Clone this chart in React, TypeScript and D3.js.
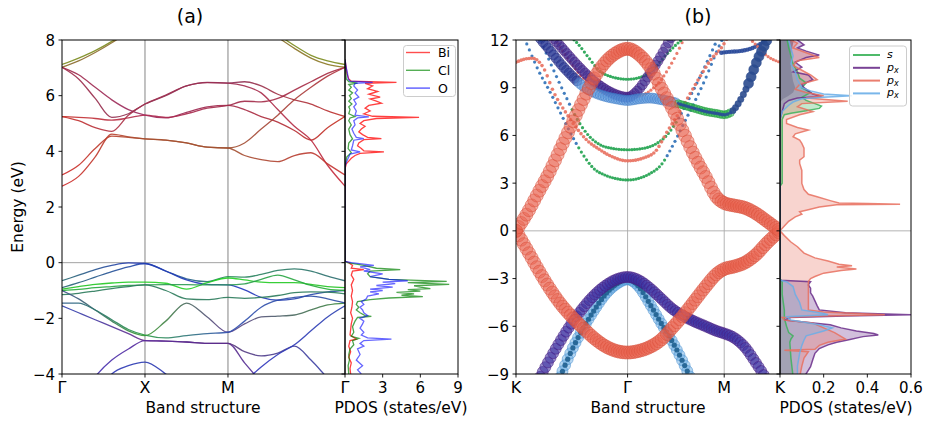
import React, { useEffect, useRef } from "react";
import * as d3 from "d3";

const FONT = "DejaVu Sans, Verdana, sans-serif";

// ---------------- Panel (a) : band structure ----------------
const kTicksA = [0, 1, 2, 3.41];
const kLabelsA = ["Γ", "X", "M", "Γ"];
const kGridA = [0, 0.2, 0.4, 0.6, 0.8, 1.0, 1.25, 1.5, 1.75, 2.0, 2.2, 2.4, 2.6, 2.8, 3.0, 3.2, 3.41];
const energyTicksA = [-4, -2, 0, 2, 4, 6, 8];
const pdosTicksA = [3, 6, 9];

const bandsA: number[][] = [
  [7.12, 7.35, 7.62, 7.95, 8.35, 8.8, 9.2, 9.45, 9.4, 9.2, 8.95, 8.6, 8.2, 7.8, 7.45, 7.25, 7.12],
  [7.02, 7.25, 7.55, 7.9, 8.3, 8.75, 9.1, 9.3, 9.3, 9.1, 8.85, 8.5, 8.1, 7.7, 7.35, 7.12, 7.02],
  [7.02, 6.6, 5.9, 5.22, 5.35, 5.7, 6.0, 6.35, 6.48, 6.45, 6.5, 6.35, 6.05, 5.85, 5.7, 5.45, 5.25],
  [7.02, 6.75, 6.3, 5.85, 5.5, 5.3, 5.2, 5.4, 5.6, 5.65, 5.5, 5.25, 5.05, 4.75, 4.4, 4.85, 5.25],
  [5.25, 5.22, 5.18, 5.12, 5.2, 5.3, 5.22, 5.35, 5.55, 5.65, 5.8, 5.78, 5.9, 6.2, 6.5, 6.8, 7.02],
  [5.25, 5.1, 4.85, 4.72, 5.3, 5.7, 6.02, 6.35, 6.47, 6.45, 6.35, 6.1, 5.5, 4.9, 4.4, 3.5, 2.75],
  [3.15, 3.5, 4.1, 4.55, 4.5, 4.45, 4.4, 4.3, 4.15, 4.12, 4.3, 4.8, 5.3, 5.85, 6.3, 6.7, 7.02],
  [2.75, 3.1, 3.8, 4.62, 4.52, 4.45, 4.4, 4.3, 4.15, 4.12, 3.85, 3.7, 3.63, 3.85, 3.95, 3.55, 3.15],
  [-0.65, -0.45, -0.25, -0.1, -0.01, -0.03, -0.3, -0.58, -0.68, -0.5, -0.52, -0.42, -0.28, -0.22, -0.3, -0.48, -0.65],
  [-0.9, -0.72, -0.52, -0.32, -0.15, -0.03, -0.3, -0.62, -0.78, -0.8, -0.98, -1.25, -1.35, -1.3, -1.15, -1.05, -1.0],
  [-0.95, -0.86, -0.78, -0.73, -0.7, -0.7, -0.74, -0.95, -0.72, -0.55, -0.62, -0.7, -0.72, -0.72, -0.78, -0.86, -0.9],
  [-1.0, -0.96, -0.9, -0.86, -0.82, -0.8, -0.79, -0.79, -0.8, -0.8, -0.76, -0.6, -0.45, -0.62, -0.82, -0.95, -1.0],
  [-1.15, -1.1, -1.02, -0.93, -0.86, -0.8, -1.0, -1.3, -1.33, -1.25, -1.28, -1.25, -1.18, -1.08, -1.05, -1.06, -1.12],
  [-1.0, -1.3, -1.7, -2.1, -2.45, -2.62, -2.1, -1.45, -1.95, -2.5, -2.2, -1.95, -1.92, -1.88, -1.7, -1.52, -1.45],
  [-1.45, -1.45, -1.7, -2.05, -2.4, -2.6, -2.7, -2.62, -2.55, -2.5, -2.1, -1.6, -1.35, -1.25, -1.2, -1.3, -1.45],
  [-1.55, -1.8, -2.05, -2.3, -2.55, -2.8, -2.82, -2.85, -2.9, -2.9, -3.2, -3.35, -3.25, -3.0, -3.5, -4.15, -4.8],
  [-6.0, -5.0, -4.1, -3.5, -3.1, -2.8, -2.82, -2.85, -2.9, -2.9, -3.6, -4.3, -5.0, -5.6, -6.0, -6.3, -6.5],
  [-7.0, -6.5, -6.0, -5.6, -5.2, -4.8, -4.8, -5.0, -5.2, -5.0, -4.3, -3.75, -3.3, -2.95, -2.45, -1.95, -1.55],
  [-7.5, -6.0, -5.0, -4.0, -3.7, -3.57, -4.0, -4.6, -5.2, -5.5, -5.6, -5.8, -6.0, -6.0, -5.8, -5.5, -5.3],
];
// colours at Γ, X, M, Γ
const bandColorsA: string[][] = [
  ["#7a8a1c", "#7a8a1c", "#7a8a1c", "#7a8a1c"],
  ["#8a6a2a", "#8a6a2a", "#8a6a2a", "#8a7a20"],
  ["#a02848", "#8a3050", "#8a3058", "#c0302a"],
  ["#a02848", "#9a2a60", "#a02848", "#c83020"],
  ["#c83028", "#b02a50", "#a02848", "#a82a40"],
  ["#c83028", "#a03050", "#9a2a50", "#c82838"],
  ["#d02828", "#a85030", "#a05030", "#b03040"],
  ["#d02828", "#a85030", "#a05030", "#c83030"],
  ["#2a6a70", "#2030c0", "#2a8a5a", "#2a6a70"],
  ["#2a6a70", "#2040b0", "#2030c0", "#2a50a0"],
  ["#22c022", "#22d022", "#22d022", "#22c022"],
  ["#22b030", "#2a9a50", "#2a9a50", "#22b030"],
  ["#2a7a5a", "#2a7a5a", "#2a7a5a", "#2a7a5a"],
  ["#3a4a8a", "#3a9a30", "#5a3a8a", "#3a8a3a"],
  ["#2a5a8a", "#2a9a40", "#3050b0", "#2a4aa0"],
  ["#2a40b0", "#6a2a8a", "#5a3a7a", "#3040b0"],
  ["#3030c0", "#5a2a9a", "#5a2a8a", "#3030c0"],
  ["#3030c0", "#3030c0", "#3030c0", "#2a40b0"],
  ["#3030c0", "#2a3ab0", "#3030c0", "#3030c0"],
];

// ---------------- Panel (a) : PDOS (energy, states/eV) ----------------
const pdosBi: [number, number][] = [
  [7.3, 0], [7.0, 0.1], [6.8, 0.15], [6.6, 0.3], [6.52, 0.5], [6.48, 4.1], [6.44, 1.6], [6.35, 2.2], [6.25, 1.8],
  [6.15, 2.6], [6.05, 1.9], [5.95, 2.8], [5.88, 2.0], [5.8, 2.5], [5.73, 2.9], [5.65, 1.9], [5.55, 1.6], [5.45, 2.0],
  [5.35, 1.5], [5.26, 2.2], [5.22, 5.9], [5.18, 2.5], [5.1, 1.5], [5.0, 1.2], [4.9, 1.6], [4.8, 1.3], [4.7, 1.1],
  [4.6, 1.4], [4.5, 1.8], [4.46, 2.9], [4.42, 1.5], [4.3, 1.1], [4.2, 1.0], [4.1, 1.3], [4.02, 1.5], [3.98, 3.1],
  [3.93, 1.2], [3.85, 0.8], [3.75, 0.5], [3.65, 0.3], [3.55, 0.1], [3.4, 0.02], [0.05, 0], [0.0, 0.3], [-0.1, 0.6],
  [-0.2, 0.5], [-0.25, 1.5], [-0.3, 0.6], [-0.45, 0.5], [-0.6, 0.7], [-0.8, 0.5], [-1.0, 0.6], [-1.2, 0.5],
  [-1.4, 0.6], [-1.6, 0.55], [-1.8, 0.45], [-2.0, 0.6], [-2.2, 0.5], [-2.4, 0.45], [-2.6, 0.4], [-2.75, 0.9],
  [-2.8, 0.4], [-3.0, 0.3], [-3.2, 0.45], [-3.4, 0.3], [-3.6, 0.5], [-3.8, 0.4], [-4.0, 0.45],
];
const pdosCl: [number, number][] = [
  [7.3, 0], [6.6, 0.1], [6.5, 0.3], [6.45, 1.0], [6.4, 0.3], [6.3, 0.5], [6.2, 0.3], [6.1, 0.6], [6.0, 0.35],
  [5.9, 0.5], [5.8, 0.3], [5.7, 0.55], [5.6, 0.3], [5.5, 0.4], [5.35, 0.3], [5.25, 0.8], [5.2, 0.4], [5.1, 0.3],
  [4.95, 0.5], [4.8, 0.3], [4.6, 0.4], [4.45, 0.6], [4.3, 0.3], [4.1, 0.25], [3.95, 0.5], [3.8, 0.15], [3.6, 0.05],
  [3.4, 0], [0.05, 0], [0.0, 0.2], [-0.1, 1.5], [-0.2, 2.5], [-0.25, 4.4], [-0.3, 2.0], [-0.4, 1.8], [-0.5, 2.0],
  [-0.6, 3.5], [-0.67, 8.1], [-0.72, 5.0], [-0.78, 8.3], [-0.83, 5.5], [-0.88, 6.0], [-0.93, 6.8], [-0.97, 5.0],
  [-1.02, 6.0], [-1.07, 4.1], [-1.12, 5.5], [-1.17, 4.5], [-1.22, 6.2], [-1.27, 3.5], [-1.33, 2.0], [-1.4, 1.0],
  [-1.5, 0.9], [-1.6, 1.1], [-1.7, 0.9], [-1.8, 1.2], [-1.9, 1.6], [-1.93, 2.1], [-1.97, 1.0], [-2.1, 0.8],
  [-2.3, 0.6], [-2.5, 0.7], [-2.65, 0.5], [-2.72, 1.1], [-2.8, 0.6], [-2.95, 0.7], [-3.1, 0.4], [-3.3, 0.3],
  [-3.5, 0.35], [-3.7, 0.25], [-4.0, 0.3],
];
const pdosO: [number, number][] = [
  [7.3, 0], [7.0, 0.1], [6.8, 0.2], [6.6, 0.25], [6.52, 0.4], [6.48, 2.2], [6.44, 0.8], [6.35, 0.7], [6.2, 1.0],
  [6.1, 0.8], [5.95, 1.1], [5.85, 0.7], [5.7, 0.9], [5.6, 0.7], [5.45, 0.9], [5.3, 0.8], [5.24, 1.9], [5.2, 1.0],
  [5.1, 0.7], [4.95, 0.8], [4.8, 0.55], [4.65, 0.7], [4.5, 0.9], [4.46, 1.5], [4.4, 0.7], [4.2, 0.6], [4.05, 0.5],
  [3.98, 1.2], [3.9, 0.4], [3.75, 0.25], [3.6, 0.1], [3.45, 0], [0.05, 0], [0.0, 0.5], [-0.05, 1.5], [-0.1, 2.3],
  [-0.15, 1.2], [-0.25, 2.0], [-0.3, 1.5], [-0.4, 3.0], [-0.5, 2.0], [-0.6, 3.5], [-0.65, 5.0], [-0.7, 3.0],
  [-0.75, 4.0], [-0.82, 2.5], [-0.88, 3.8], [-0.95, 2.0], [-1.0, 3.0], [-1.05, 2.0], [-1.12, 2.7], [-1.2, 1.8],
  [-1.3, 1.7], [-1.4, 1.3], [-1.5, 1.5], [-1.6, 1.2], [-1.7, 1.4], [-1.8, 1.5], [-1.9, 1.8], [-2.0, 1.2],
  [-2.1, 1.5], [-2.2, 1.4], [-2.35, 1.2], [-2.5, 1.5], [-2.6, 1.3], [-2.7, 1.8], [-2.75, 3.7], [-2.8, 1.5],
  [-2.9, 1.2], [-3.0, 1.5], [-3.1, 1.0], [-3.3, 1.2], [-3.5, 0.9], [-3.7, 1.4], [-3.85, 1.0], [-4.0, 1.3],
];
const legendA = ["Bi", "Cl", "O"];
const legendAColors = ["#ff2020", "#2a9a2a", "#3030ff"];

// ---------------- Panel (b) : fat bands ----------------
const kTicksB = [0, 1, 1.866, 2.366];
const kLabelsB = ["K", "Γ", "M", "K"];
const energyTicksB = [-9, -6, -3, 0, 3, 6, 9, 12];
const pdosTicksB = [0.2, 0.4, 0.6];

const kR = [0, 0.1, 0.2, 0.3, 0.4, 0.5, 0.6, 0.7, 0.8, 0.9, 1.0, 1.1, 1.2, 1.3, 1.4, 1.5, 1.6, 1.7, 1.8, 1.866, 1.95, 2.05, 2.15, 2.25, 2.366];
const eR1 = [0, 1.1, 2.4, 3.7, 5.2, 6.7, 8.2, 9.6, 10.6, 11.2, 11.45, 11.1, 10.3, 9.0, 7.7, 6.2, 4.7, 3.4, 2.1, 1.75, 1.6, 1.45, 1.1, 0.6, 0];
const eR2 = [0, -1.2, -2.45, -3.6, -4.6, -5.4, -6.1, -6.75, -7.25, -7.55, -7.65, -7.55, -7.3, -6.85, -6.1, -5.3, -4.4, -3.5, -2.7, -2.4, -2.25, -2.0, -1.5, -0.75, 0];
const kP1 = [0.1, 0.2, 0.3, 0.4, 0.5, 0.6, 0.7, 0.8, 0.9, 1.0, 1.1, 1.2, 1.3, 1.4, 1.5, 1.6, 1.7, 1.8, 1.866, 1.95, 2.05, 2.15, 2.25, 2.32];
const eP1 = [-10.8, -9.4, -8.1, -6.9, -5.8, -4.85, -4.05, -3.45, -3.05, -2.9, -3.1, -3.6, -4.25, -4.9, -5.35, -5.7, -6.0, -6.3, -6.45, -6.7, -7.3, -8.3, -9.4, -10.2];
const kB1 = [0.3, 0.4, 0.5, 0.6, 0.7, 0.8, 0.9, 1.0, 1.1, 1.2, 1.3, 1.4, 1.5, 1.6];
const eB1 = [-10.8, -9.1, -7.5, -6.15, -5.0, -4.0, -3.35, -3.05, -3.5, -4.6, -5.8, -6.95, -8.3, -9.8];
const kP2 = [0.2, 0.3, 0.4, 0.5, 0.6, 0.7, 0.8, 0.9, 1.0, 1.1, 1.2, 1.3, 1.4];
const eP2 = [13.2, 12.4, 11.6, 10.8, 10.05, 9.4, 8.9, 8.55, 8.4, 8.9, 9.9, 11.0, 12.3];
const kP3 = [0.15, 0.2, 0.3, 0.4, 0.5, 0.6, 0.7, 0.8, 0.9, 1.0, 1.1, 1.2, 1.3, 1.4, 1.5, 1.6, 1.7, 1.8, 1.866, 1.95, 2.0, 2.08, 2.17, 2.23, 2.3];
const eP3 = [13.0, 12.3, 11.4, 10.5, 9.75, 9.1, 8.7, 8.45, 8.3, 8.2, 8.3, 8.35, 8.25, 8.1, 7.9, 7.7, 7.5, 7.38, 7.3, 7.6, 8.1, 9.2, 10.85, 11.7, 12.8];

// thin (dotted) bands
const kD1 = [0.05, 0.1, 0.2, 0.3, 0.4, 0.5, 0.6, 0.7, 0.8, 0.9, 1.0, 1.1, 1.2, 1.3, 1.4, 1.5, 1.6, 1.7, 1.8, 1.88];
const eD1 = [12.5, 11.7, 10.1, 8.8, 7.4, 6.0, 4.8, 3.9, 3.5, 3.28, 3.2, 3.3, 3.6, 4.14, 5.3, 6.7, 8.1, 9.6, 11.3, 12.5];
const kD2 = [0, 0.08, 0.15, 0.25, 0.336, 0.45, 0.55, 0.65, 0.73, 0.85, 1.0, 1.15, 1.25, 1.36, 1.45, 1.55, 1.65, 1.75, 1.84, 1.9];
const eD2 = [10.6, 10.8, 10.85, 10.2, 8.75, 7.4, 6.4, 5.6, 5.2, 4.7, 4.4, 4.6, 5.0, 6.3, 7.3, 8.5, 9.7, 10.8, 11.5, 12.2];
const kD3 = [0.2, 0.25, 0.35, 0.45, 0.55, 0.65, 0.757, 0.85, 1.0, 1.15, 1.25, 1.35, 1.45, 1.55, 1.65, 1.75, 1.82];
const eD3 = [12.3, 11.5, 9.9, 8.4, 7.0, 6.0, 5.4, 5.2, 5.1, 5.2, 5.45, 6.0, 7.0, 8.3, 9.7, 11.2, 12.3];
const kD4 = [0.3, 0.4, 0.5, 0.6, 0.7, 0.8, 0.9, 1.0, 1.1, 1.2, 1.3, 1.4, 1.5];
const eD4 = [12.6, 11.5, 10.5, 9.6, 9.0, 8.6, 8.4, 8.35, 8.45, 8.8, 9.5, 10.6, 12.0];
const kDA = [0.45, 0.55, 0.65, 0.75, 0.85, 1.0, 1.15, 1.25, 1.35, 1.45, 1.55];
const eDA = [12.4, 11.8, 10.9, 10.05, 9.7, 9.53, 9.75, 10.3, 11.1, 11.8, 12.4];
const kD5 = [1.84, 1.9, 2.0, 2.1, 2.2, 2.28];
const eD5 = [11.2, 11.25, 11.3, 11.45, 11.8, 12.3];
const kD6 = [2.05, 2.15, 2.25, 2.366];
const eD6 = [12.4, 11.7, 11.0, 10.6];

// ---------------- Panel (b) : PDOS ----------------
const pdosS: [number, number][] = [
  [12.2, 0.03], [11.5, 0.04], [11.0, 0.05], [10.5, 0.06], [10.0, 0.08], [9.6, 0.09], [9.3, 0.12], [9.0, 0.1],
  [8.7, 0.14], [8.4, 0.1], [8.2, 0.12], [8.0, 0.16], [7.85, 0.19], [7.7, 0.18], [7.55, 0.12], [7.4, 0.05],
  [7.3, 0.02], [7.0, 0.01], [5.0, 0.01], [3.0, 0.01], [2.8, 0], [-3.0, 0], [-3.2, 0.01], [-4.0, 0.01],
  [-5.0, 0.02], [-5.5, 0.02], [-6.0, 0.03], [-6.4, 0.04], [-6.6, 0.06], [-6.8, 0.05], [-7.0, 0.045],
  [-8.0, 0.05], [-9.2, 0.06],
];
const pdosPxA: [number, number][] = [
  [12.2, 0.09], [12.0, 0.08], [11.7, 0.11], [11.5, 0.08], [11.3, 0.12], [11.05, 0.18], [10.9, 0.12], [10.6, 0.07],
  [10.3, 0.1], [10.0, 0.06], [9.8, 0.13], [9.5, 0.15], [9.2, 0.1], [9.0, 0.11], [8.8, 0.13], [8.6, 0.15],
  [8.45, 0.19], [8.35, 0.08], [8.2, 0.04], [8.0, 0.02], [7.5, 0.01], [7.0, 0], [-3.1, 0], [-3.2, 0.14],
  [-3.4, 0.13], [-3.6, 0.14], [-3.9, 0.14], [-4.1, 0.15], [-4.4, 0.16], [-4.7, 0.17], [-4.97, 0.18],
  [-5.15, 0.3], [-5.28, 0.6], [-5.35, 0.3], [-5.45, 0.05], [-5.6, 0.02], [-5.75, 0.12], [-5.9, 0.23],
  [-6.1, 0.28], [-6.3, 0.35], [-6.45, 0.43], [-6.55, 0.45], [-6.65, 0.38], [-6.86, 0.31], [-7.0, 0.26],
  [-7.17, 0.22], [-7.4, 0.18], [-7.7, 0.16], [-8.1, 0.15], [-8.54, 0.14], [-9.2, 0.11],
];
const pdosPxB: [number, number][] = [
  [12.2, 0.05], [12.0, 0.05], [11.8, 0.08], [11.5, 0.06], [11.2, 0.12], [10.9, 0.18], [10.7, 0.08], [10.4, 0.06],
  [10.1, 0.1], [9.8, 0.14], [9.5, 0.17], [9.2, 0.09], [8.9, 0.07], [8.7, 0.12], [8.5, 0.2], [8.35, 0.12],
  [8.15, 0.31], [8.0, 0.1], [7.8, 0.08], [7.5, 0.15], [7.3, 0.09], [7.0, 0.03], [6.75, 0.03], [6.5, 0.08],
  [6.34, 0.13], [6.1, 0.07], [5.92, 0.06], [5.7, 0.09], [5.5, 0.1], [5.2, 0.11], [4.9, 0.11], [4.66, 0.11],
  [4.45, 0.09], [4.24, 0.09], [3.8, 0.1], [3.4, 0.1], [2.98, 0.1], [2.6, 0.11], [2.3, 0.13], [2.14, 0.17],
  [1.9, 0.23], [1.75, 0.27], [1.72, 0.4], [1.68, 0.55], [1.64, 0.26], [1.5, 0.18], [1.3, 0.12], [1.2, 0.09],
  [1.05, 0.1], [0.88, 0.07], [0.6, 0.04], [0.3, 0.02], [0.0, 0.0], [-0.3, 0.02], [-0.7, 0.05], [-1.0, 0.08],
  [-1.4, 0.11], [-1.7, 0.16], [-1.9, 0.22], [-2.1, 0.27], [-2.2, 0.33], [-2.28, 0.26], [-2.4, 0.35],
  [-2.5, 0.28], [-2.66, 0.2], [-2.87, 0.16], [-3.0, 0.14], [-3.18, 0.13], [-3.5, 0.13], [-4.0, 0.13],
  [-4.5, 0.13], [-4.97, 0.13], [-5.1, 0.2], [-5.28, 0.48], [-5.35, 0.2], [-5.45, 0.01], [-5.6, 0.02],
  [-5.8, 0.15], [-6.1, 0.2], [-6.4, 0.25], [-6.8, 0.3], [-7.0, 0.22], [-7.2, 0.18], [-7.45, 0.16],
  [-7.5, 0.02], [-7.6, 0.13], [-8.0, 0.11], [-8.5, 0.1], [-9.2, 0.09],
];
const pdosPxC: [number, number][] = [
  [12.2, 0.04], [12.0, 0.04], [11.5, 0.05], [11.0, 0.06], [10.5, 0.05], [10.0, 0.07], [9.5, 0.08], [9.0, 0.1],
  [8.8, 0.14], [8.6, 0.2], [8.5, 0.33], [8.4, 0.2], [8.3, 0.1], [8.1, 0.06], [7.9, 0.04], [7.5, 0.01], [7.0, 0],
  [-3.1, 0], [-3.2, 0.03], [-3.5, 0.06], [-4.0, 0.07], [-4.5, 0.09], [-4.97, 0.1], [-5.2, 0.2], [-5.28, 0.22],
  [-5.4, 0.03], [-5.6, 0.05], [-5.9, 0.18], [-6.1, 0.24], [-6.3, 0.2], [-6.6, 0.12], [-6.86, 0.11],
  [-7.2, 0.1], [-7.7, 0.09], [-8.5, 0.08], [-9.2, 0.08],
];
// unlabelled dark background fill seen in the upper PDOS region
const pdosRest: [number, number][] = [
  [12.2, 0.07], [11.8, 0.06], [11.4, 0.055], [11.0, 0.05], [10.6, 0.05], [10.2, 0.05], [9.8, 0.055],
  [9.4, 0.06], [9.0, 0.07], [8.7, 0.06], [8.5, 0.04], [8.3, 0.015], [8.1, 0.0],
];
const legendBColors = ["#3cb35a", "#6a2d8a", "#e8705f", "#6aaee8"];

export default function App() {
  const ref = useRef<SVGSVGElement>(null);

  useEffect(() => {
    const node = ref.current!;
    const svg = d3.select(node);
    svg.selectAll("*").remove();
    const defs = svg.append("defs");

    // scales
    const xA = d3.scaleLinear().domain([0, 3.41]).range([62, 345]);
    const yA = d3.scaleLinear().domain([-4, 8]).range([374, 40]);
    const xPA = d3.scaleLinear().domain([0, 9]).range([345, 458]);
    const xB = d3.scaleLinear().domain([0, 2.366]).range([516, 780]);
    const yB = d3.scaleLinear().domain([-9, 12]).range([374, 40]);
    const xPB = d3.scaleLinear().domain([0, 0.6]).range([780, 911]);

    const clip = (id: string, x0: number, x1: number, y0: number, y1: number) => {
      defs.append("clipPath").attr("id", id).append("rect")
        .attr("x", x0).attr("y", y0).attr("width", x1 - x0).attr("height", y1 - y0);
    };
    clip("cA", 62, 345, 40, 374);
    clip("cPA", 345, 458, 40, 374);
    clip("cB", 516, 780, 40, 374);
    clip("cPB", 780, 911, 40, 374);

    const text = (x: number, y: number, s: string, size: number, anchor = "middle") =>
      svg.append("text").attr("x", x).attr("y", y).attr("font-family", FONT)
        .attr("font-size", size).attr("text-anchor", anchor).attr("fill", "#000").text(s);

    // ---------- panel (a) bands ----------
    const gA = svg.append("g").attr("clip-path", "url(#cA)");
    kTicksA.slice(1, 3).forEach((k) =>
      gA.append("line").attr("x1", xA(k)).attr("x2", xA(k)).attr("y1", 40).attr("y2", 374)
        .attr("stroke", "#777").attr("stroke-width", 0.9));
    gA.append("line").attr("x1", 62).attr("x2", 345).attr("y1", yA(0)).attr("y2", yA(0))
      .attr("stroke", "#999").attr("stroke-width", 0.9);
    const lineA = d3.line<number>().x((_, i) => xA(kGridA[i])).y((e) => yA(e)).curve(d3.curveMonotoneX);
    bandsA.forEach((b, i) => {
      const gid = "gradA" + i;
      const grad = defs.append("linearGradient").attr("id", gid).attr("gradientUnits", "userSpaceOnUse")
        .attr("x1", xA(0)).attr("x2", xA(3.41)).attr("y1", 0).attr("y2", 0);
      kTicksA.forEach((k, j) => grad.append("stop").attr("offset", k / 3.41).attr("stop-color", bandColorsA[i][j]));
      gA.append("path").attr("d", lineA(b)).attr("fill", "none").attr("stroke", `url(#${gid})`)
        .attr("stroke-width", 1.3).attr("stroke-opacity", 0.9);
    });

    // ---------- panel (a) PDOS ----------
    const gPA = svg.append("g").attr("clip-path", "url(#cPA)");
    const pdosLineA = d3.line<[number, number]>().x((d) => xPA(d[1])).y((d) => yA(d[0]));
    [[pdosBi, "#ff0000", 0.75], [pdosCl, "#008000", 0.7], [pdosO, "#0000ff", 0.6]].forEach(([data, c, o]: any) => {
      gPA.append("path").attr("d", pdosLineA(data)).attr("fill", "none").attr("stroke", c)
        .attr("stroke-width", 1.3).attr("stroke-opacity", o);
    });

    // ---------- panel (b) bands ----------
    const gB = svg.append("g").attr("clip-path", "url(#cB)");
    kTicksB.slice(1, 3).forEach((k) =>
      gB.append("line").attr("x1", xB(k)).attr("x2", xB(k)).attr("y1", 40).attr("y2", 374)
        .attr("stroke", "#aaa").attr("stroke-width", 0.9));
    gB.append("line").attr("x1", 516).attr("x2", 780).attr("y1", yB(0)).attr("y2", yB(0))
      .attr("stroke", "#aaa").attr("stroke-width", 0.9);

    const sample = (ks: number[], es: number[], step: number) => {
      const pts: [number, number][] = ks.map((k, i) => [xB(k), yB(es[i])]);
      const d = d3.line().curve(d3.curveMonotoneX)(pts) as string;
      const p = document.createElementNS("http://www.w3.org/2000/svg", "path");
      p.setAttribute("d", d);
      node.appendChild(p);
      const L = p.getTotalLength();
      const fine: [number, number][] = [];
      for (let l = 0; l <= L; l += 0.4) {
        const q = p.getPointAtLength(l);
        fine.push([q.x, q.y]);
      }
      node.removeChild(p);
      const out: [number, number][] = [];
      let j = 0;
      const xEnd = pts[pts.length - 1][0];
      for (let x = pts[0][0]; x <= xEnd + 0.01; x += step) {
        while (j < fine.length - 2 && fine[j + 1][0] < x) j++;
        const a = fine[j], b = fine[j + 1] || a;
        const t = b[0] === a[0] ? 0 : Math.min(1, Math.max(0, (x - a[0]) / (b[0] - a[0])));
        out.push([x, a[1] + t * (b[1] - a[1])]);
      }
      return out;
    };

    type Seg = { k0: number; k1: number; fill: string; stroke: string; r: number; fo: number; inner?: string; ir?: number };
    const drawBand = (ks: number[], es: number[], segs: Seg[], step = 2.6) => {
      const pts = sample(ks, es, step);
      const inners: [number, number, string, number][] = [];
      pts.forEach(([x, y]) => {
        const k = xB.invert(x);
        const s = segs.find((sg) => k >= sg.k0 && k < sg.k1) || segs[segs.length - 1];
        gB.append("circle").attr("cx", x).attr("cy", y).attr("r", s.r)
          .attr("fill", s.fill).attr("fill-opacity", s.fo)
          .attr("stroke", s.stroke).attr("stroke-opacity", s.r > 2.5 ? 0.75 : 0).attr("stroke-width", 0.7);
        if (s.inner) inners.push([x, y, s.inner, s.ir || 2]);
      });
      inners.forEach(([x, y, c, r]) =>
        gB.append("circle").attr("cx", x).attr("cy", y).attr("r", r).attr("fill", c).attr("fill-opacity", 0.9));
    };

    const BLUE = "#2c6fb7", GREEN = "#1fa24e", SALMON = "#e8705f";
    const dot = (c: string, r = 1.6): Seg => ({ k0: -1, k1: 9, fill: c, stroke: c, r, fo: 0.9 });
    drawBand(kD1, eD1, [
      { ...dot(BLUE), k0: -1, k1: 0.55 }, { ...dot(GREEN), k0: 0.55, k1: 1.35 }, { ...dot(BLUE), k0: 1.35, k1: 9 }]);
    drawBand(kD3, eD3, [
      { ...dot(BLUE), k0: -1, k1: 0.5 }, { ...dot(GREEN), k0: 0.5, k1: 1.45 }, { ...dot(BLUE), k0: 1.45, k1: 9 }]);
    drawBand(kD2, eD2, [dot(SALMON, 1.8)]);
    drawBand(kD4, eD4, [dot(SALMON, 1.6)]);
    drawBand(kDA, eDA, [dot(GREEN, 1.6)]);
    drawBand(kD5, eD5, [dot("#2a4a9a", 2.2)]);
    drawBand(kD6, eD6, [dot(SALMON, 1.6)]);

    drawBand(kB1, eB1, [{ k0: -1, k1: 9, fill: "#5aa5e0", stroke: "#4a90d0", r: 5.5, fo: 0.45, inner: "#1f5f8f", ir: 2.6 }]);
    drawBand(kP1, eP1, [{ k0: -1, k1: 9, fill: "#3a30a0", stroke: "#4b1a7e", r: 5.5, fo: 0.55 }]);
    drawBand(kP2, eP2, [{ k0: -1, k1: 9, fill: "#3c2a90", stroke: "#4b1a7e", r: 5, fo: 0.55 }]);
    drawBand(kP3, eP3, [
      { k0: -1, k1: 0.55, fill: "#2a3a96", stroke: "#2a2a80", r: 5, fo: 0.6 },
      { k0: 0.55, k1: 1.45, fill: "#5a96dc", stroke: "#3a7ac8", r: 5, fo: 0.4 },
      { k0: 1.45, k1: 1.93, fill: "#2db14f", stroke: "#22a040", r: 4, fo: 0.5, inner: "#2a4a9a", ir: 1.8 },
      { k0: 1.93, k1: 2.08, fill: "#2a4a8e", stroke: "#2a4a8e", r: 3.2, fo: 0.9 },
      { k0: 2.08, k1: 9, fill: "#2a4a8e", stroke: "#2a4a8e", r: 5, fo: 0.9 }]);
    drawBand(kR, eR2, [{ k0: -1, k1: 9, fill: "#e8604c", stroke: "#d9503c", r: 6.5, fo: 0.45 }]);
    drawBand(kR, eR1, [{ k0: -1, k1: 9, fill: "#e8604c", stroke: "#d9503c", r: 6.5, fo: 0.45 }]);

    // ---------- panel (b) PDOS ----------
    const gPB = svg.append("g").attr("clip-path", "url(#cPB)");
    gPB.append("line").attr("x1", 780).attr("x2", 911).attr("y1", yB(0)).attr("y2", yB(0))
      .attr("stroke", "#aaa").attr("stroke-width", 0.9);
    const areaB = d3.area<[number, number]>().y((d) => yB(d[0])).x0(xPB(0)).x1((d) => xPB(d[1]));
    const lineB = d3.line<[number, number]>().y((d) => yB(d[0])).x((d) => xPB(d[1]));
    gPB.append("path").attr("d", areaB(pdosRest)).attr("fill", "#3a4058").attr("fill-opacity", 0.55);
    [pdosS, pdosPxA, pdosPxB, pdosPxC].forEach((data, i) => {
      gPB.append("path").attr("d", areaB(data)).attr("fill", legendBColors[i]).attr("fill-opacity", 0.3);
    });
    [pdosS, pdosPxA, pdosPxB, pdosPxC].forEach((data, i) => {
      gPB.append("path").attr("d", lineB(data)).attr("fill", "none").attr("stroke", legendBColors[i])
        .attr("stroke-width", 1.5).attr("stroke-opacity", 0.85);
    });

    // ---------- frames & ticks ----------
    const frame = (x0: number, x1: number) =>
      svg.append("rect").attr("x", x0).attr("y", 40).attr("width", x1 - x0).attr("height", 334)
        .attr("fill", "none").attr("stroke", "#000").attr("stroke-width", 1);
    frame(62, 345); frame(345, 458); frame(516, 780); frame(780, 911);

    const tick = (x1: number, y1: number, x2: number, y2: number) =>
      svg.append("line").attr("x1", x1).attr("y1", y1).attr("x2", x2).attr("y2", y2)
        .attr("stroke", "#000").attr("stroke-width", 0.9);

    energyTicksA.forEach((e) => {
      tick(58.5, yA(e), 62, yA(e));
      tick(341.5, yA(e), 345, yA(e));
      text(55, yA(e) + 5.5, e < 0 ? "−" + Math.abs(e) : String(e), 15, "end");
    });
    kTicksA.forEach((k, i) => {
      tick(xA(k), 374, xA(k), 377.5);
      text(xA(k), 393, kLabelsA[i], 16);
    });
    pdosTicksA.forEach((v) => {
      tick(xPA(v), 374, xPA(v), 377.5);
      text(xPA(v), 393, String(v), 15);
    });
    energyTicksB.forEach((e) => {
      tick(512.5, yB(e), 516, yB(e));
      tick(776.5, yB(e), 780, yB(e));
      text(509, yB(e) + 5.5, e < 0 ? "−" + Math.abs(e) : String(e), 15, "end");
    });
    kTicksB.forEach((k, i) => {
      tick(xB(k), 374, xB(k), 377.5);
      text(xB(k), 393, kLabelsB[i], 16);
    });
    pdosTicksB.forEach((v) => {
      tick(xPB(v), 374, xPB(v), 377.5);
      text(xPB(v), 393, String(v), 15);
    });

    // labels
    text(203, 413, "Band structure", 15.5);
    text(401, 413, "PDOS (states/eV)", 15.5);
    text(648, 413, "Band structure", 15.5);
    text(846, 413, "PDOS (states/eV)", 15.5);
    text(190, 23, "(a)", 19);
    text(698, 23, "(b)", 19);
    svg.append("text").attr("transform", "translate(23,207) rotate(-90)").attr("text-anchor", "middle")
      .attr("font-family", FONT).attr("font-size", 15.5).text("Energy (eV)");

    // legend (a)
    svg.append("rect").attr("x", 403.5).attr("y", 45.5).attr("width", 52).attr("height", 51).attr("rx", 3)
      .attr("fill", "#fff").attr("fill-opacity", 0.85).attr("stroke", "#ccc");
    legendA.forEach((s, i) => {
      const y = 52.5 + i * 17.8;
      svg.append("line").attr("x1", 406).attr("x2", 430).attr("y1", y).attr("y2", y)
        .attr("stroke", legendAColors[i]).attr("stroke-width", 1.4).attr("stroke-opacity", 0.8);
      text(438, y + 4.5, s, 12.5, "start");
    });

    // legend (b)
    svg.append("rect").attr("x", 849.5).attr("y", 46).attr("width", 57).attr("height", 60).attr("rx", 3)
      .attr("fill", "#fff").attr("fill-opacity", 0.85).attr("stroke", "#ccc");
    ["s", "p", "p", "p"].forEach((s, i) => {
      const y = 55 + i * 12.8;
      svg.append("line").attr("x1", 853).attr("x2", 880).attr("y1", y).attr("y2", y)
        .attr("stroke", legendBColors[i]).attr("stroke-width", 2).attr("stroke-opacity", 0.9);
      svg.append("text").attr("x", 887).attr("y", y + 3).attr("font-family", FONT)
        .attr("font-size", 11).attr("font-style", "italic").text(s);
      if (i > 0)
        svg.append("text").attr("x", 894).attr("y", y + 5).attr("font-family", FONT)
          .attr("font-size", 8).attr("font-style", "italic").text("x");
    });
  }, []);

  return (
    <svg ref={ref} width={927} height={424}
      style={{ position: "absolute", left: 0, top: 0, display: "block", background: "#fff" }} />
  );
}
